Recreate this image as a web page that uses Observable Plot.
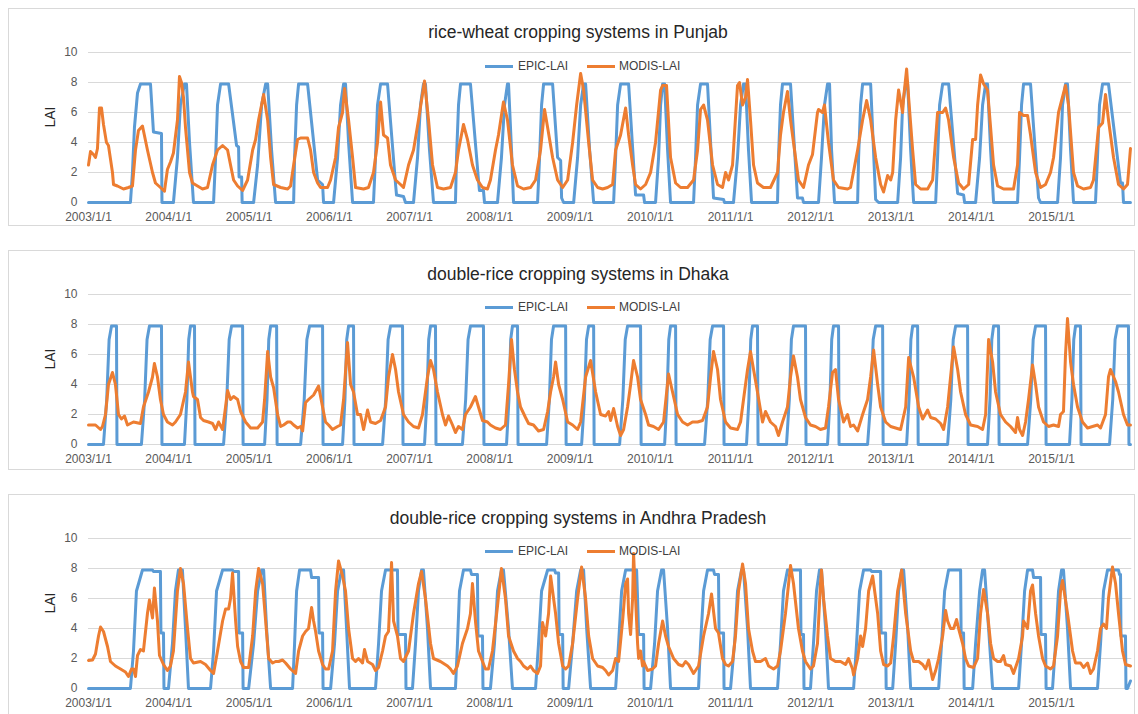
<!DOCTYPE html>
<html>
<head>
<meta charset="utf-8">
<script src="https://cdn.jsdelivr.net/npm/d3@7"></script>
<script src="https://cdn.jsdelivr.net/npm/@observablehq/plot@0.6"></script>
<style>
  html, body { margin: 0; padding: 0; background: #ffffff; }
  body { position: relative; width: 1138px; height: 714px; overflow: hidden; font-family: "Liberation Sans", Arial, sans-serif; }
  .box { position: absolute; left: 8px; width: 1127px; border: 1px solid #d9d9d9; box-sizing: border-box; }
  .title { position: absolute; transform: translate(-50%, -50%); font-size: 17.5px; color: #262626; white-space: nowrap; }
  .swatch { position: absolute; width: 28px; height: 3px; }
  .legtext { position: absolute; transform: translateY(-50%); font-size: 12px; color: #404040; white-space: nowrap; }
  .chart { position: absolute; left: 0; }
</style>
</head>
<body>
<script>
// ---------------- data (decimal year, LAI) ----------------
const seriesNames = ["EPIC-LAI", "MODIS-LAI"];
const panelTitles = [
  "rice-wheat cropping systems in Punjab",
  "double-rice cropping systems in Dhaka",
  "double-rice cropping systems in Andhra Pradesh"
];
const tickYears = [2003, 2004, 2005, 2006, 2007, 2008, 2009, 2010, 2011, 2012, 2013, 2014, 2015];
const yTicks = [0, 2, 4, 6, 8, 10];

const punjabEpic = [
[2003.000,0],[2003.523,0],[2003.548,2],[2003.573,5],[2003.611,7.3],[2003.648,7.9],[2003.773,7.9],[2003.810,4.7],[2003.910,4.6],[2003.916,0],
[2004.059,0],[2004.109,3],[2004.146,6.5],[2004.196,7.9],[2004.221,7.9],[2004.259,4],[2004.308,0],
[2004.558,0],[2004.583,3],[2004.607,6.5],[2004.645,7.9],[2004.745,7.9],[2004.844,3.8],[2004.869,3.7],[2004.875,1.7],[2004.907,1.7],[2004.913,0],
[2005.056,0],[2005.106,2.5],[2005.156,6.5],[2005.206,7.9],[2005.231,7.9],[2005.280,3.5],[2005.330,0],
[2005.555,0],[2005.567,3],[2005.592,6.5],[2005.617,7.9],[2005.729,7.9],[2005.854,1.5],[2005.916,1.2],[2005.928,0],
[2006.053,0],[2006.103,3],[2006.140,6.5],[2006.178,7.9],[2006.202,7.9],[2006.240,4],[2006.290,0],
[2006.551,0],[2006.576,3],[2006.601,6.5],[2006.639,7.9],[2006.726,7.9],[2006.826,1.2],[2006.838,0.5],[2006.925,0.4],[2006.950,0],
[2007.050,0],[2007.100,3],[2007.137,6.5],[2007.174,7.9],[2007.199,7.9],[2007.249,3.5],[2007.299,0],
[2007.573,0],[2007.586,3],[2007.611,6.5],[2007.636,7.9],[2007.760,7.9],[2007.860,1.5],[2007.872,0.8],[2007.922,0.8],[2007.935,0],
[2008.097,0],[2008.146,3],[2008.184,6.5],[2008.221,7.9],[2008.234,7.9],[2008.271,3.5],[2008.296,0],
[2008.595,0],[2008.620,3],[2008.645,6.5],[2008.670,7.9],[2008.782,7.9],[2008.844,3],[2008.882,2.8],[2008.894,0.3],[2008.919,0],
[2009.044,0],[2009.093,3],[2009.131,6.5],[2009.168,7.9],[2009.193,7.9],[2009.243,3.5],[2009.293,0],
[2009.542,0],[2009.567,3],[2009.592,6.5],[2009.629,7.9],[2009.729,7.9],[2009.816,0.5],[2009.916,0.5],[2009.928,0],
[2010.065,0],[2010.103,3],[2010.128,6.5],[2010.153,7.9],[2010.178,7.9],[2010.215,3.5],[2010.252,0],
[2010.539,0],[2010.564,3],[2010.589,6.5],[2010.626,7.9],[2010.713,7.9],[2010.788,0.3],[2010.913,0.2],[2010.925,0],
[2011.037,0],[2011.087,3],[2011.125,6.5],[2011.162,7.9],[2011.187,7.9],[2011.224,3.5],[2011.262,0],
[2011.586,0],[2011.598,3],[2011.623,6.5],[2011.648,7.9],[2011.748,7.9],[2011.835,0.3],[2011.897,0.3],[2011.910,0],
[2012.097,0],[2012.134,3],[2012.171,6.5],[2012.209,7.9],[2012.234,7.9],[2012.259,3.5],[2012.296,0],
[2012.583,0],[2012.595,3],[2012.620,6.5],[2012.645,7.9],[2012.745,7.9],[2012.807,0.2],[2012.844,0],
[2013.081,0],[2013.118,3],[2013.143,6.5],[2013.181,7.9],[2013.206,7.9],[2013.243,3.5],[2013.280,0],
[2013.555,0],[2013.579,3],[2013.604,6.5],[2013.642,7.9],[2013.717,7.9],[2013.829,0.6],[2013.903,0.5],[2013.916,0],
[2014.053,0],[2014.103,3],[2014.140,6.5],[2014.178,7.9],[2014.202,7.9],[2014.240,3.5],[2014.277,0],
[2014.576,0],[2014.601,3],[2014.626,6.5],[2014.651,7.9],[2014.738,7.9],[2014.838,0.3],[2014.863,0],
[2015.075,0],[2015.112,3],[2015.137,6.5],[2015.174,7.9],[2015.199,7.9],[2015.237,3.5],[2015.274,0],
[2015.548,0],[2015.573,3],[2015.598,6.5],[2015.636,7.9],[2015.710,7.9],[2015.860,1.3],[2015.885,1.3],[2015.897,0],[2015.984,0]
];

const punjabModis = [
[2003.000,2.5],[2003.025,3.4],[2003.062,3.2],[2003.087,3.0],[2003.112,3.6],[2003.137,6.3],[2003.162,6.3],[2003.187,5.2],[2003.224,4.0],[2003.249,3.8],[2003.299,2.0],[2003.312,1.2],[2003.361,1.1],[2003.436,0.9],[2003.498,1.0],[2003.548,1.1],[2003.586,3.5],[2003.623,4.8],[2003.673,5.1],[2003.735,3.5],[2003.798,2.0],[2003.835,1.3],[2003.897,1.0],[2003.947,0.75],[2003.984,2.2],
[2004.022,2.7],[2004.059,3.3],[2004.109,5.5],[2004.134,8.4],[2004.159,8.0],[2004.184,7.0],[2004.209,5.0],[2004.259,2.0],[2004.296,1.3],[2004.358,1.1],[2004.421,0.9],[2004.483,1.0],[2004.545,2.5],[2004.607,3.5],[2004.670,3.8],[2004.732,3.5],[2004.769,2.5],[2004.807,1.5],[2004.857,1.1],[2004.919,0.8],[2004.981,1.5],
[2005.044,3.5],[2005.081,4.2],[2005.118,5.5],[2005.181,7.2],[2005.231,5.5],[2005.268,3.0],[2005.305,1.2],[2005.393,1.0],[2005.480,0.9],[2005.517,1.1],[2005.555,2.5],[2005.604,4.2],[2005.642,4.3],[2005.729,4.3],[2005.766,3.5],[2005.804,2.0],[2005.854,1.3],[2005.891,1.0],[2005.978,1.0],
[2006.016,1.5],[2006.078,3.0],[2006.115,5.0],[2006.165,6.0],[2006.190,7.6],[2006.240,5.5],[2006.290,3.0],[2006.327,1.0],[2006.427,0.9],[2006.489,1.0],[2006.551,2.0],[2006.601,4.0],[2006.639,6.7],[2006.676,4.5],[2006.726,4.3],[2006.763,2.5],[2006.826,1.5],[2006.888,1.2],[2006.925,1.0],[2006.988,2.5],
[2007.050,3.5],[2007.112,5.5],[2007.187,8.1],[2007.237,5.5],[2007.287,2.5],[2007.349,1.0],[2007.424,0.9],[2007.511,1.0],[2007.573,2.0],[2007.611,3.5],[2007.673,5.2],[2007.723,4.2],[2007.785,2.5],[2007.847,1.5],[2007.910,1.0],[2007.972,0.9],
[2008.009,1.5],[2008.072,3.5],[2008.109,4.5],[2008.171,6.7],[2008.221,5.5],[2008.283,2.5],[2008.346,1.1],[2008.421,0.9],[2008.508,1.0],[2008.570,1.5],[2008.632,3.5],[2008.682,6.2],[2008.720,5.0],[2008.782,3.0],[2008.844,1.5],[2008.907,1.0],[2008.969,1.5],
[2009.031,4.0],[2009.081,6.5],[2009.131,8.6],[2009.168,7.5],[2009.231,4.0],[2009.280,1.5],[2009.343,1.0],[2009.405,0.9],[2009.467,1.0],[2009.530,1.2],[2009.567,3.5],[2009.629,4.5],[2009.692,6.3],[2009.729,4.5],[2009.779,2.5],[2009.816,1.2],[2009.878,0.9],[2009.941,1.2],
[2010.003,2.0],[2010.065,4.0],[2010.128,7.5],[2010.153,7.8],[2010.202,7.8],[2010.252,3.0],[2010.315,1.3],[2010.377,1.0],[2010.464,1.0],[2010.539,1.5],[2010.589,3.5],[2010.626,6.2],[2010.664,6.5],[2010.713,5.5],[2010.776,2.5],[2010.838,1.2],[2010.900,1.0],[2010.938,2.0],[2010.975,1.5],
[2011.025,2.5],[2011.087,7.8],[2011.112,8.0],[2011.150,6.5],[2011.187,7.0],[2011.212,8.2],[2011.249,5.5],[2011.287,2.5],[2011.336,1.3],[2011.411,1.0],[2011.498,1.0],[2011.586,2.0],[2011.623,4.5],[2011.660,6.0],[2011.710,7.4],[2011.748,5.5],[2011.810,3.0],[2011.847,1.5],[2011.910,1.0],[2011.972,2.5],
[2012.022,3.2],[2012.084,6.0],[2012.097,6.2],[2012.146,6.0],[2012.171,6.5],[2012.221,4.0],[2012.283,1.5],[2012.346,1.0],[2012.458,0.9],[2012.495,1.0],[2012.583,3.5],[2012.645,5.5],[2012.695,6.8],[2012.745,5.5],[2012.807,3.0],[2012.869,1.2],[2012.906,0.7],[2012.956,1.8],[2012.994,1.5],
[2013.019,2.0],[2013.056,5.5],[2013.093,7.5],[2013.143,6.0],[2013.156,7.0],[2013.193,8.9],[2013.218,7.0],[2013.268,3.5],[2013.305,1.2],[2013.368,0.9],[2013.455,0.9],[2013.517,1.5],[2013.579,6.0],[2013.642,6.0],[2013.679,6.3],[2013.716,5.5],[2013.779,3.0],[2013.841,1.3],[2013.903,0.9],[2013.966,1.2],
[2014.016,4.2],[2014.053,4.2],[2014.078,6.5],[2014.115,8.5],[2014.153,7.9],[2014.202,7.5],[2014.240,5.0],[2014.277,2.5],[2014.327,1.1],[2014.402,0.9],[2014.526,0.9],[2014.576,2.5],[2014.601,6.0],[2014.651,5.8],[2014.701,5.8],[2014.738,4.5],[2014.801,2.0],[2014.863,1.0],[2014.925,1.2],[2014.987,2.0],
[2015.025,3.0],[2015.087,6.0],[2015.174,7.8],[2015.212,6.5],[2015.274,2.0],[2015.324,1.1],[2015.399,0.9],[2015.486,1.0],[2015.523,1.5],[2015.586,5.0],[2015.636,5.3],[2015.673,7.2],[2015.710,5.5],[2015.773,3.0],[2015.835,1.2],[2015.897,0.9],[2015.947,1.2],[2015.984,3.6]
];

const dhakaEpic = [
[2003.000,0],[2003.187,0],[2003.227,3],[2003.257,7],[2003.287,7.9],[2003.349,7.9],[2003.355,0],
[2003.660,0],[2003.700,3],[2003.730,7],[2003.760,7.9],[2003.910,7.9],[2003.916,0],
[2004.196,0],[2004.226,3],[2004.249,7],[2004.271,7.9],[2004.321,7.9],[2004.327,0],
[2004.682,0],[2004.722,3],[2004.752,7],[2004.782,7.9],[2004.919,7.9],[2004.925,0],
[2005.193,0],[2005.223,3],[2005.245,7],[2005.268,7.9],[2005.343,7.9],[2005.349,0],
[2005.642,0],[2005.687,3],[2005.720,7],[2005.754,7.9],[2005.916,7.9],[2005.922,0],
[2006.165,0],[2006.195,3],[2006.217,7],[2006.240,7.9],[2006.302,7.9],[2006.308,0],
[2006.664,0],[2006.703,3],[2006.733,7],[2006.763,7.9],[2006.913,7.9],[2006.919,0],
[2007.187,0],[2007.217,3],[2007.239,7],[2007.262,7.9],[2007.324,7.9],[2007.330,0],
[2007.660,0],[2007.700,3],[2007.730,7],[2007.760,7.9],[2007.922,7.9],[2007.928,0],
[2008.209,0],[2008.239,3],[2008.261,7],[2008.283,7.9],[2008.346,7.9],[2008.352,0],
[2008.707,0],[2008.742,3],[2008.768,7],[2008.794,7.9],[2008.944,7.9],[2008.950,0],
[2009.143,0],[2009.178,3],[2009.204,7],[2009.231,7.9],[2009.293,7.9],[2009.299,0],
[2009.617,0],[2009.657,3],[2009.687,7],[2009.716,7.9],[2009.878,7.9],[2009.885,0],
[2010.178,0],[2010.207,3],[2010.230,7],[2010.252,7.9],[2010.315,7.9],[2010.321,0],
[2010.676,0],[2010.716,3],[2010.746,7],[2010.776,7.9],[2010.913,7.9],[2010.919,0],
[2011.199,0],[2011.229,3],[2011.252,7],[2011.274,7.9],[2011.336,7.9],[2011.343,0],
[2011.698,0],[2011.733,3],[2011.759,7],[2011.785,7.9],[2011.935,7.9],[2011.941,0],
[2012.209,0],[2012.239,3],[2012.261,7],[2012.283,7.9],[2012.346,7.9],[2012.352,0],
[2012.707,0],[2012.747,3],[2012.777,7],[2012.807,7.9],[2012.894,7.9],[2012.900,0],
[2013.193,0],[2013.223,3],[2013.246,7],[2013.268,7.9],[2013.330,7.9],[2013.337,0],
[2013.704,0],[2013.744,3],[2013.774,7],[2013.804,7.9],[2013.953,7.9],[2013.959,0],
[2014.202,0],[2014.232,3],[2014.255,7],[2014.277,7.9],[2014.339,7.9],[2014.346,0],
[2014.701,0],[2014.741,3],[2014.771,7],[2014.801,7.9],[2014.925,7.9],[2014.932,0],
[2015.224,0],[2015.254,3],[2015.277,7],[2015.299,7.9],[2015.361,7.9],[2015.368,0],
[2015.723,0],[2015.763,3],[2015.792,7],[2015.822,7.9],[2015.959,7.9],[2015.965,0],[2015.984,0]
];

const dhakaModis = [
[2003.000,1.3],[2003.087,1.3],[2003.150,1.0],[2003.174,1.2],[2003.212,2.0],[2003.249,4.0],[2003.299,4.8],[2003.336,4.0],[2003.374,2.0],[2003.411,1.7],[2003.449,1.9],[2003.486,1.3],[2003.523,1.4],[2003.561,1.5],[2003.648,1.4],[2003.685,2.5],[2003.748,3.5],[2003.798,4.5],[2003.822,5.4],[2003.860,4.5],[2003.897,3.0],[2003.935,2.0],[2003.984,1.5],
[2004.047,1.3],[2004.084,1.5],[2004.146,2.0],[2004.209,3.5],[2004.246,5.5],[2004.296,3.5],[2004.308,3.2],[2004.358,3.0],[2004.396,1.8],[2004.433,1.6],[2004.495,1.5],[2004.545,1.4],[2004.583,1.0],[2004.620,1.5],[2004.670,1.0],[2004.707,2.5],[2004.732,3.6],[2004.769,3.0],[2004.807,3.2],[2004.857,3.0],[2004.894,2.2],[2004.956,1.5],
[2005.019,1.1],[2005.106,1.1],[2005.168,1.5],[2005.193,3.0],[2005.231,6.2],[2005.268,4.5],[2005.305,3.8],[2005.355,2.0],[2005.393,1.2],[2005.430,1.3],[2005.480,1.5],[2005.517,1.5],[2005.555,1.3],[2005.604,1.1],[2005.642,1.2],[2005.667,0.9],[2005.704,2.8],[2005.741,3.0],[2005.804,3.3],[2005.866,3.9],[2005.916,2.5],[2005.953,1.5],[2005.991,1.3],
[2006.040,1.0],[2006.103,1.2],[2006.140,1.3],[2006.178,3.0],[2006.227,6.8],[2006.265,4.0],[2006.302,3.5],[2006.352,2.0],[2006.389,2.0],[2006.427,1.0],[2006.477,2.3],[2006.514,1.5],[2006.576,1.4],[2006.639,1.6],[2006.701,2.5],[2006.738,4.5],[2006.788,6.0],[2006.826,5.0],[2006.863,3.5],[2006.925,2.0],[2006.988,1.5],
[2007.050,1.2],[2007.112,1.1],[2007.162,2.0],[2007.224,4.5],[2007.262,5.6],[2007.299,5.0],[2007.349,3.5],[2007.411,2.0],[2007.449,1.3],[2007.486,1.9],[2007.536,1.3],[2007.573,0.8],[2007.611,1.2],[2007.660,1.0],[2007.698,2.0],[2007.760,2.5],[2007.822,3.2],[2007.860,2.5],[2007.910,1.6],[2007.972,1.5],
[2008.009,1.3],[2008.072,1.1],[2008.134,1.0],[2008.196,1.3],[2008.234,4.0],[2008.271,7.0],[2008.308,5.0],[2008.346,3.5],[2008.383,2.5],[2008.445,1.8],[2008.483,1.4],[2008.545,1.3],[2008.607,0.9],[2008.670,1.0],[2008.720,2.2],[2008.757,3.5],[2008.794,4.5],[2008.819,5.5],[2008.857,4.0],[2008.907,3.0],[2008.969,1.5],
[2009.031,1.3],[2009.093,1.0],[2009.131,1.5],[2009.193,4.5],[2009.255,5.6],[2009.318,3.5],[2009.380,2.0],[2009.442,1.9],[2009.480,2.2],[2009.505,1.6],[2009.542,2.4],[2009.592,1.2],[2009.629,0.6],[2009.667,1.0],[2009.716,2.5],[2009.754,4.0],[2009.791,5.6],[2009.841,4.5],[2009.878,3.0],[2009.941,2.0],[2009.978,1.3],
[2010.040,1.2],[2010.103,1.0],[2010.165,1.5],[2010.227,4.7],[2010.277,3.5],[2010.340,2.0],[2010.402,1.5],[2010.464,1.3],[2010.526,1.5],[2010.589,1.5],[2010.651,1.6],[2010.713,2.5],[2010.751,4.5],[2010.788,6.2],[2010.838,5.0],[2010.875,3.0],[2010.938,1.5],
[2011.000,1.1],[2011.087,1.0],[2011.125,1.5],[2011.162,3.0],[2011.212,5.0],[2011.249,6.2],[2011.287,5.0],[2011.336,3.5],[2011.399,1.5],[2011.436,2.2],[2011.498,1.5],[2011.561,1.2],[2011.598,0.6],[2011.648,1.5],[2011.710,2.5],[2011.748,4.5],[2011.785,5.9],[2011.835,4.5],[2011.872,3.0],[2011.935,1.8],[2011.997,1.3],
[2012.059,1.2],[2012.121,1.0],[2012.184,1.1],[2012.221,2.5],[2012.271,4.8],[2012.308,5.0],[2012.346,3.0],[2012.408,1.5],[2012.458,2.0],[2012.495,1.2],[2012.533,1.3],[2012.583,0.9],[2012.645,2.0],[2012.707,3.0],[2012.745,4.5],[2012.782,6.3],[2012.832,4.0],[2012.869,2.5],[2012.931,1.5],[2012.994,1.2],
[2013.056,1.1],[2013.118,1.0],[2013.181,2.5],[2013.218,5.8],[2013.280,4.5],[2013.343,2.5],[2013.393,1.7],[2013.455,2.3],[2013.492,1.8],[2013.555,1.7],[2013.617,1.4],[2013.654,1.0],[2013.704,2.5],[2013.741,4.5],[2013.779,6.5],[2013.829,5.0],[2013.866,3.5],[2013.928,2.0],[2013.991,1.3],
[2014.078,1.2],[2014.140,1.0],[2014.178,2.0],[2014.215,7.0],[2014.265,5.5],[2014.302,3.5],[2014.364,2.0],[2014.427,1.5],[2014.489,1.2],[2014.551,0.8],[2014.576,1.8],[2014.601,1.0],[2014.639,0.6],[2014.676,1.5],[2014.713,3.0],[2014.763,5.3],[2014.801,4.0],[2014.838,2.5],[2014.900,1.5],[2014.963,1.2],
[2015.025,1.3],[2015.087,1.2],[2015.112,2.0],[2015.149,2.2],[2015.174,6.0],[2015.199,8.4],[2015.237,5.5],[2015.274,4.0],[2015.324,2.5],[2015.386,1.5],[2015.449,1.1],[2015.511,1.2],[2015.573,1.3],[2015.611,1.1],[2015.673,2.0],[2015.710,4.5],[2015.735,5.0],[2015.798,4.2],[2015.835,3.5],[2015.897,2.0],[2015.947,1.3],[2015.984,1.3]
];

const andhraEpic = [
[2003.000,0],[2003.523,0],[2003.561,2.5],[2003.598,6.5],[2003.673,7.9],[2003.798,7.9],[2003.810,7.8],[2003.897,7.8],[2003.903,3.7],[2003.935,3.7],[2003.941,0],
[2003.997,0],[2004.047,3],[2004.084,6.5],[2004.121,7.9],[2004.171,7.9],[2004.209,4],[2004.246,0],
[2004.520,0],[2004.558,2.5],[2004.595,6.5],[2004.670,7.9],[2004.794,7.9],[2004.807,7.8],[2004.869,7.8],[2004.875,3.7],[2004.919,3.7],[2004.925,0],
[2004.994,0],[2005.056,3],[2005.106,6.5],[2005.156,7.9],[2005.181,7.9],[2005.218,4],[2005.268,0],
[2005.542,0],[2005.567,3],[2005.592,6.5],[2005.629,7.9],[2005.766,7.9],[2005.779,7.4],[2005.866,7.4],[2005.872,3.7],[2005.916,3.7],[2005.922,0],
[2006.016,0],[2006.065,3],[2006.103,6.5],[2006.153,7.9],[2006.178,7.9],[2006.215,4],[2006.252,0],
[2006.576,0],[2006.614,3],[2006.651,6.5],[2006.701,7.9],[2006.850,7.9],[2006.857,3.6],[2006.950,3.6],[2006.956,0],
[2007.037,0],[2007.075,3],[2007.112,6.5],[2007.150,7.9],[2007.174,7.9],[2007.224,4],[2007.262,0],
[2007.573,0],[2007.598,3],[2007.623,6.5],[2007.673,7.9],[2007.760,7.9],[2007.773,7.6],[2007.847,7.6],[2007.854,3.5],[2007.910,3.5],[2007.916,0],
[2008.009,0],[2008.059,3],[2008.097,6.5],[2008.146,7.9],[2008.171,7.9],[2008.234,4],[2008.283,0],
[2008.570,0],[2008.607,3],[2008.645,6.5],[2008.720,7.9],[2008.807,7.9],[2008.819,7.7],[2008.857,7.7],[2008.863,3.6],[2008.907,3.6],[2008.913,0],
[2008.981,0],[2009.031,3],[2009.081,6.5],[2009.131,7.9],[2009.168,7.9],[2009.206,4],[2009.255,0],
[2009.567,0],[2009.604,3],[2009.642,6.5],[2009.692,7.9],[2009.829,7.9],[2009.841,6],[2009.854,3.6],[2009.916,3.6],[2009.922,0],
[2010.003,0],[2010.053,3],[2010.090,6.5],[2010.140,7.9],[2010.165,7.9],[2010.215,4],[2010.252,0],
[2010.601,0],[2010.626,3],[2010.664,6.5],[2010.713,7.9],[2010.788,7.9],[2010.801,7.6],[2010.850,7.6],[2010.857,3.7],[2010.913,3.7],[2010.919,0],
[2011.000,0],[2011.050,3],[2011.087,6.5],[2011.137,7.9],[2011.162,7.9],[2011.212,4],[2011.249,0],
[2011.586,0],[2011.623,3],[2011.660,6.5],[2011.710,7.9],[2011.872,7.9],[2011.878,3.6],[2011.910,3.6],[2011.916,0],
[2011.997,0],[2012.034,3],[2012.072,6.5],[2012.109,7.9],[2012.134,7.9],[2012.184,4],[2012.221,0],
[2012.533,0],[2012.570,3],[2012.607,6.5],[2012.657,7.9],[2012.745,7.9],[2012.757,7.8],[2012.869,7.8],[2012.875,3.7],[2012.931,3.7],[2012.938,0],
[2013.019,0],[2013.056,3],[2013.093,6.5],[2013.131,7.9],[2013.156,7.9],[2013.206,4],[2013.243,0],
[2013.592,0],[2013.629,3],[2013.667,6.5],[2013.716,7.9],[2013.866,7.9],[2013.872,3.7],[2013.903,3.7],[2013.910,0],
[2014.016,0],[2014.053,3],[2014.103,6.5],[2014.140,7.9],[2014.165,7.9],[2014.215,4],[2014.265,0],
[2014.589,0],[2014.626,3],[2014.664,6.5],[2014.701,7.9],[2014.763,7.9],[2014.776,7.4],[2014.863,7.4],[2014.869,3.6],[2014.925,3.6],[2014.932,0],
[2015.012,0],[2015.050,3],[2015.087,6.5],[2015.125,7.9],[2015.149,7.9],[2015.199,4],[2015.237,0],
[2015.573,0],[2015.611,3],[2015.648,6.5],[2015.698,7.9],[2015.835,7.9],[2015.847,7.6],[2015.860,7.6],[2015.866,3.5],[2015.922,3.5],[2015.928,0],[2015.947,0],[2015.984,0.5]
];

const andhraModis = [
[2003.000,1.87],[2003.050,1.9],[2003.087,2.3],[2003.125,3.5],[2003.150,4.1],[2003.187,3.8],[2003.237,2.8],[2003.274,1.8],[2003.336,1.5],[2003.399,1.3],[2003.461,1.1],[2003.498,0.8],[2003.536,1.3],[2003.561,1.3],[2003.586,0.8],[2003.611,2.2],[2003.648,2.6],[2003.685,2.5],[2003.735,5.0],[2003.760,5.9],[2003.798,4.7],[2003.822,6.7],[2003.860,4.5],[2003.885,2.2],[2003.935,1.6],[2003.984,1.2],
[2004.022,1.5],[2004.059,2.5],[2004.109,6.5],[2004.146,8.0],[2004.184,7.0],[2004.234,4.0],[2004.271,2.0],[2004.308,1.7],[2004.396,1.8],[2004.458,1.6],[2004.520,1.2],[2004.558,1.0],[2004.607,2.5],[2004.670,4.5],[2004.707,5.3],[2004.745,5.3],[2004.769,6.0],[2004.794,7.7],[2004.832,4.5],[2004.857,2.8],[2004.894,1.8],[2004.931,1.4],[2004.994,1.4],
[2005.044,3.5],[2005.081,6.5],[2005.118,8.0],[2005.168,7.0],[2005.206,4.5],[2005.243,2.0],[2005.293,1.7],[2005.330,1.8],[2005.368,1.8],[2005.417,1.9],[2005.455,1.7],[2005.517,1.3],[2005.579,1.0],[2005.617,2.5],[2005.667,3.5],[2005.704,3.8],[2005.741,4.0],[2005.779,5.4],[2005.804,4.5],[2005.829,3.8],[2005.866,2.5],[2005.916,1.6],[2005.953,1.3],[2005.991,1.3],
[2006.040,2.5],[2006.078,6.5],[2006.115,8.5],[2006.165,7.5],[2006.202,6.5],[2006.240,4.0],[2006.290,2.0],[2006.327,1.8],[2006.364,2.0],[2006.414,1.7],[2006.439,2.6],[2006.477,1.8],[2006.539,1.6],[2006.576,1.2],[2006.614,1.4],[2006.664,2.5],[2006.701,3.5],[2006.738,3.8],[2006.776,8.4],[2006.801,4.5],[2006.850,3.5],[2006.888,2.0],[2006.925,1.8],[2006.988,2.5],
[2007.050,5.0],[2007.112,7.0],[2007.150,7.8],[2007.199,6.0],[2007.262,3.0],[2007.299,2.0],[2007.386,1.8],[2007.474,1.5],[2007.511,1.3],[2007.548,1.0],[2007.598,1.5],[2007.660,3.0],[2007.723,4.0],[2007.760,5.0],[2007.785,7.0],[2007.822,4.5],[2007.860,2.5],[2007.910,1.8],[2007.947,1.3],[2007.984,1.3],
[2008.034,2.5],[2008.097,5.5],[2008.146,8.0],[2008.196,6.0],[2008.234,3.5],[2008.296,2.5],[2008.346,2.0],[2008.383,1.8],[2008.421,1.5],[2008.470,1.3],[2008.508,1.5],[2008.545,1.2],[2008.595,1.0],[2008.632,1.5],[2008.657,4.4],[2008.695,3.5],[2008.732,5.0],[2008.757,7.5],[2008.819,5.0],[2008.857,3.0],[2008.907,1.5],[2008.944,1.3],[2008.981,1.5],
[2009.031,3.0],[2009.093,6.0],[2009.143,8.1],[2009.193,6.0],[2009.231,3.5],[2009.280,2.0],[2009.343,1.5],[2009.405,1.4],[2009.442,1.2],[2009.480,0.9],[2009.530,1.2],[2009.567,2.0],[2009.604,1.8],[2009.654,4.5],[2009.692,7.0],[2009.716,7.3],[2009.729,5.0],[2009.754,3.6],[2009.779,6.0],[2009.791,9.0],[2009.816,6.0],[2009.841,3.0],[2009.854,2.0],[2009.878,2.5],[2009.903,1.5],[2009.916,1.8],[2009.966,1.2],
[2010.028,1.3],[2010.065,1.5],[2010.103,3.0],[2010.153,4.5],[2010.190,3.5],[2010.227,2.8],[2010.290,2.0],[2010.352,1.6],[2010.402,1.5],[2010.439,1.8],[2010.477,1.6],[2010.539,1.0],[2010.601,1.5],[2010.664,3.5],[2010.726,5.0],[2010.763,6.3],[2010.813,4.0],[2010.850,3.7],[2010.900,2.0],[2010.938,1.6],[2010.975,1.5],
[2011.025,1.8],[2011.062,3.5],[2011.100,6.5],[2011.150,8.3],[2011.187,7.0],[2011.224,4.0],[2011.274,2.5],[2011.311,1.8],[2011.374,1.8],[2011.436,2.0],[2011.474,1.5],[2011.536,1.3],[2011.586,1.5],[2011.623,2.5],[2011.685,5.0],[2011.748,8.2],[2011.785,7.0],[2011.847,4.0],[2011.897,2.5],[2011.935,1.8],[2011.997,1.3],
[2012.034,1.5],[2012.084,3.0],[2012.121,7.0],[2012.134,7.9],[2012.159,6.0],[2012.209,3.5],[2012.246,2.0],[2012.308,1.8],[2012.371,1.8],[2012.433,1.6],[2012.470,2.0],[2012.520,1.3],[2012.533,0.9],[2012.583,2.0],[2012.620,3.5],[2012.645,2.8],[2012.682,4.0],[2012.720,6.5],[2012.770,7.5],[2012.832,5.0],[2012.869,2.5],[2012.906,1.6],[2012.956,1.5],[2012.994,1.7],
[2013.031,3.5],[2013.081,6.5],[2013.131,7.9],[2013.181,5.0],[2013.243,2.5],[2013.280,1.8],[2013.343,1.8],[2013.393,1.6],[2013.430,1.3],[2013.467,1.9],[2013.517,0.6],[2013.555,1.2],[2013.592,2.0],[2013.642,3.5],[2013.679,5.2],[2013.704,4.5],[2013.741,4.0],[2013.779,4.0],[2013.816,4.6],[2013.841,4.0],[2013.891,3.0],[2013.928,2.0],[2013.966,1.5],
[2014.028,1.4],[2014.078,2.0],[2014.115,5.0],[2014.153,6.6],[2014.202,5.0],[2014.240,3.0],[2014.277,2.0],[2014.327,1.8],[2014.364,1.8],[2014.402,2.2],[2014.427,1.6],[2014.489,1.5],[2014.526,1.0],[2014.589,2.0],[2014.639,3.5],[2014.651,4.5],[2014.701,4.0],[2014.738,6.5],[2014.763,6.9],[2014.801,5.0],[2014.838,3.5],[2014.888,2.0],[2014.925,1.5],[2014.987,1.3],
[2015.025,1.5],[2015.075,3.5],[2015.112,6.5],[2015.137,7.2],[2015.199,5.0],[2015.262,2.5],[2015.299,1.7],[2015.361,1.7],[2015.399,1.4],[2015.449,1.7],[2015.486,1.0],[2015.523,1.3],[2015.573,2.5],[2015.611,4.0],[2015.648,4.3],[2015.685,4.0],[2015.710,6.0],[2015.760,8.1],[2015.798,7.0],[2015.835,5.0],[2015.885,2.5],[2015.922,1.6],[2015.984,1.5]
];

// ---------------- helpers ----------------
const FONT = '"Liberation Sans", Arial, sans-serif';
const BLUE = "#5b9bd5", ORANGE = "#ed7d31";
function toDate(t) {
  const y = Math.floor(t);
  const a = Date.UTC(y, 0, 1), b = Date.UTC(y + 1, 0, 1);
  return new Date(a + (t - y) * (b - a));
}
const toRows = arr => arr.map(([t, v]) => ({date: toDate(t), lai: v}));
const tickDates = tickYears.map(y => new Date(Date.UTC(y, 0, 1)));

const panels = [
  {title: panelTitles[0], epic: punjabEpic,  modis: punjabModis,  boxTop: 8,   boxH: 218, titleY: 32,  legendY: 66,  y10: 51.5},
  {title: panelTitles[1], epic: dhakaEpic,   modis: dhakaModis,   boxTop: 250, boxH: 220, titleY: 274, legendY: 307, y10: 294},
  {title: panelTitles[2], epic: andhraEpic,  modis: andhraModis,  boxTop: 494, boxH: 230, titleY: 518, legendY: 551, y10: 538}
];

function el(tag, cls, style, text) {
  const e = document.createElement(tag);
  if (cls) e.className = cls;
  Object.assign(e.style, style || {});
  if (text != null) e.textContent = text;
  document.body.appendChild(e);
  return e;
}

panels.forEach(p => {
  el("div", "box", {top: p.boxTop + "px", height: p.boxH + "px"});

  const chart = Plot.plot({
    width: 1138,
    height: 186,
    marginLeft: 88,
    marginRight: 6.75,
    marginTop: 10,
    marginBottom: 26,
    style: {background: "transparent", fontFamily: FONT, fontSize: "12px", color: "#595959", overflow: "visible"},
    x: {
      type: "utc",
      domain: [new Date(Date.UTC(2003, 0, 1)), new Date(Date.UTC(2016, 0, 1))],
      ticks: tickDates,
      tickFormat: d => d.getUTCFullYear() + "/1/1",
      tickSize: 0,
      tickPadding: 10,
      label: null
    },
    y: {domain: [0, 10], ticks: yTicks, tickSize: 0, tickPadding: 11, label: null},
    marks: [
      Plot.ruleY(yTicks, {stroke: "#d9d9d9", strokeWidth: 1}),
      Plot.line(toRows(p.epic), {x: "date", y: "lai", stroke: BLUE, strokeWidth: 3, strokeLinejoin: "round"}),
      Plot.line(toRows(p.modis), {x: "date", y: "lai", stroke: ORANGE, strokeWidth: 3, strokeLinejoin: "round"}),
      Plot.text(["LAI"], {text: d => d, frameAnchor: "left", dx: -38, rotate: -90, fontSize: 14, fill: "#262626"})
    ]
  });
  chart.classList.add("chart");
  chart.style.top = (p.y10 - 10) + "px";
  document.body.appendChild(chart);

  el("div", "title", {left: "578px", top: p.titleY + "px"}, p.title);
  el("div", "swatch", {left: "485px", top: (p.legendY - 1.5) + "px", background: BLUE});
  el("div", "legtext", {left: "518px", top: p.legendY + "px"}, seriesNames[0]);
  el("div", "swatch", {left: "587px", top: (p.legendY - 1.5) + "px", background: ORANGE});
  el("div", "legtext", {left: "619px", top: p.legendY + "px"}, seriesNames[1]);
});
</script>
</body>
</html>
